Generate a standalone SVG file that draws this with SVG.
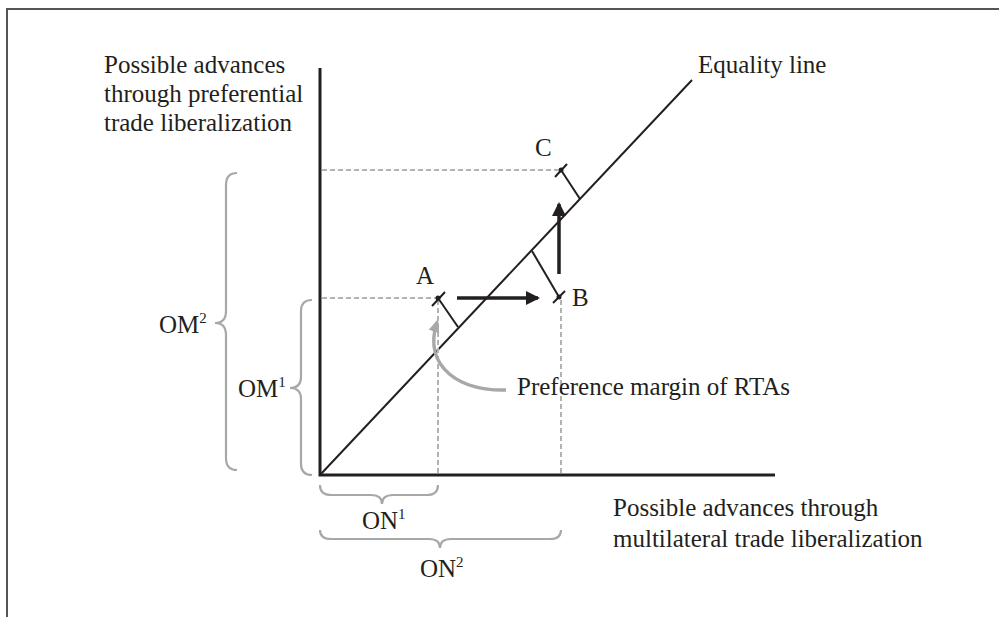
<svg xmlns="http://www.w3.org/2000/svg" width="999" height="617" viewBox="0 0 999 617">
<defs>
<style>
text{font-family:"Liberation Serif","Times New Roman",serif;font-size:25px;fill:#231f20}
.sup{font-size:15px}
.ax{stroke:#231f20;stroke-width:3;fill:none}
.ln{stroke:#231f20;stroke-width:2;fill:none}
.dash{stroke:#b3b3b3;stroke-width:2;stroke-dasharray:5,3;fill:none}
.brace{stroke:#a8a8a8;stroke-width:2.2;fill:none}
.arr{stroke:#231f20;stroke-width:3.5;fill:none}
</style>
<marker id="ah" markerWidth="14" markerHeight="14" refX="12" refY="7" orient="auto" markerUnits="userSpaceOnUse" viewBox="0 0 14 14">
<path d="M0,0 L14,7 L0,14 Z" fill="#231f20"/>
</marker>
<marker id="ahg" markerWidth="13" markerHeight="13" refX="10" refY="6.5" orient="auto" markerUnits="userSpaceOnUse" viewBox="0 0 13 13">
<path d="M0,1 L13,6.5 L0,12 Z" fill="#a8a8a8"/>
</marker>
</defs>
<rect width="999" height="617" fill="#fff"/>
<g id="frame">
<path d="M7,617 L7,9 L999,9" stroke="#555" stroke-width="2" fill="none"/>
</g>
<g id="axes">
<path class="ax" d="M320,68 L320,475 L775,475"/>
<text x="104" y="73">Possible advances</text>
<text x="104" y="102">through preferential</text>
<text x="104" y="131">trade liberalization</text>
<text x="613" y="516">Possible advances through</text>
<text x="613" y="547">multilateral trade liberalization</text>
</g>
<g id="equality-line">
<line class="ln" x1="320" y1="475" x2="692" y2="80"/>
<text x="698" y="73">Equality line</text>
</g>
<g id="connectors">
<path class="dash" d="M322,298 L436,298"/>
<path class="dash" d="M322,170 L558,170"/>
<path class="dash" d="M438,300 L438,474"/>
<path class="dash" d="M561,300 L561,474"/>
<path class="arr" d="M457,298 L538,298" marker-end="url(#ah)"/>
<path class="arr" d="M559,274 L559,204" marker-end="url(#ah)"/>
<path d="M506,390 C462,392 422,368 437,322" stroke="#a8a8a8" stroke-width="3.5" fill="none" marker-end="url(#ahg)"/>
</g>
<g id="point-A">
<line class="ln" x1="432" y1="306" x2="445" y2="292"/>
<line class="ln" x1="438" y1="298" x2="458" y2="327"/>
<circle cx="438" cy="298" r="2.5" fill="#231f20"/>
<text x="416" y="284">A</text>
</g>
<g id="point-B">
<line class="ln" x1="553" y1="303" x2="565" y2="291"/>
<line class="ln" x1="559" y1="297" x2="532" y2="251"/>
<circle cx="559" cy="297" r="2.5" fill="#231f20"/>
<text x="572" y="306">B</text>
</g>
<g id="point-C">
<line class="ln" x1="555" y1="177" x2="567" y2="164"/>
<line class="ln" x1="561" y1="170" x2="580" y2="199"/>
<circle cx="561" cy="170" r="2.5" fill="#231f20"/>
<text x="535" y="156">C</text>
</g>
<g id="preference-label">
<text x="517" y="395">Preference margin of RTAs</text>
</g>
<g id="brace-OM2">
<path class="brace" d="M237,173 Q226,173 226,185 L226,311 Q226,323 215,323 Q226,323 226,335 L226,458 Q226,470 237,470"/>
<text x="159" y="333">OM<tspan class="sup" dy="-10">2</tspan></text>
</g>
<g id="brace-OM1">
<path class="brace" d="M312,300 Q301,300 301,311 L301,377 Q301,388 290,388 Q301,388 301,399 L301,464 Q301,475 312,475"/>
<text x="238" y="397">OM<tspan class="sup" dy="-10">1</tspan></text>
</g>
<g id="brace-ON1">
<path class="brace" d="M320,485 Q320,495 331,495 L371,495 Q382,495 382,504 Q382,495 393,495 L427,495 Q438,495 438,485"/>
<text x="362" y="529">ON<tspan class="sup" dy="-10">1</tspan></text>
</g>
<g id="brace-ON2">
<path class="brace" d="M320,530 Q320,539 331,539 L429,539 Q440,539 440,548 Q440,539 451,539 L550,539 Q561,539 561,530"/>
<text x="420" y="577">ON<tspan class="sup" dy="-10">2</tspan></text>
</g>
</svg>
